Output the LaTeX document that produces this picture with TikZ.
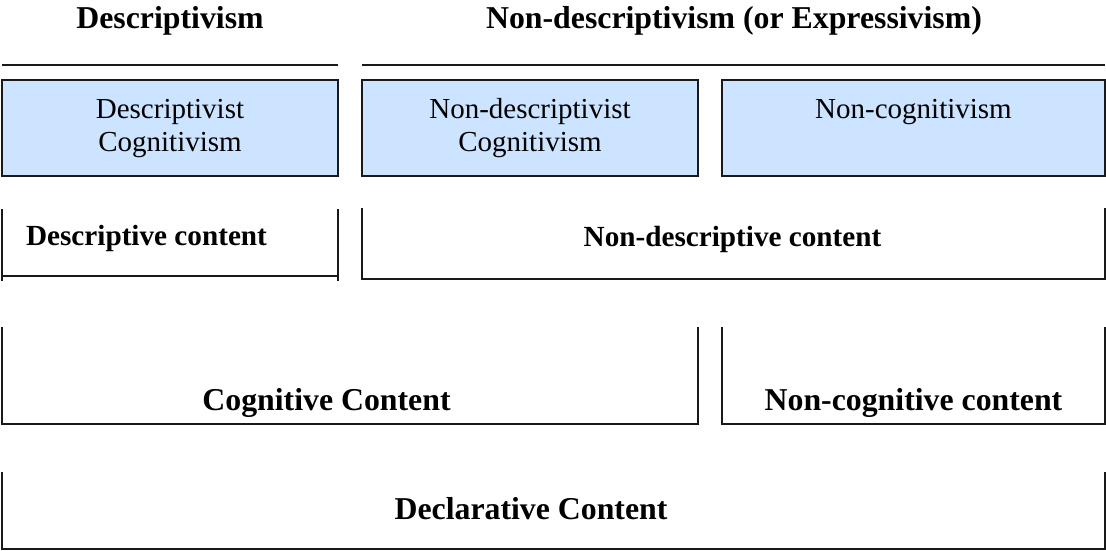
\documentclass[tikz,border=0pt]{standalone}
\usepackage{fontspec}
\setmainfont{Liberation Serif}
\definecolor{boxblue}{RGB}{204,228,255}
\definecolor{inkline}{RGB}{25,25,25}
\begin{document}
\begin{tikzpicture}[x=1pt,y=-1pt,
  rule/.style={line width=2pt, draw=inkline},
  bracket/.style={line width=2pt, draw=inkline},
  bluebox/.style={draw=inkline, line width=1.6pt, fill=boxblue},
  headtxt/.style={font=\fontsize{31.8}{36}\selectfont\bfseries, anchor=base, inner sep=0pt},
  midtxt/.style={font=\fontsize{29.2}{33}\selectfont\bfseries, anchor=base, inner sep=0pt},
  boxtxt/.style={font=\fontsize{29}{33}\selectfont, anchor=base, align=center, inner sep=0pt}]
  \useasboundingbox (0,0) rectangle (1106,551);

  % headings and their rules
  \node[headtxt] (hdesc) at (170,29) {Descriptivism};
  \node[headtxt] (hnond) at (734,29) {Non-descriptivism (or Expressivism)};
  \draw[rule] (2,65) -- (338,65);
  \draw[rule] (362,65) -- (1105,65);

  % the three positions (base anchor sits on the last line)
  \draw[bluebox] (2,80) rectangle (338,176);
  \draw[bluebox] (362,80) rectangle (698,176);
  \draw[bluebox] (722,80) rectangle (1105,176);
  \node[boxtxt] (dcog) at (170,151) {Descriptivist\\Cognitivism};
  \node[boxtxt] (ndcog) at (530,151) {Non-descriptivist\\Cognitivism};
  \node[boxtxt] (noncog) at (913.5,118) {Non-cognitivism};

  % kinds of content
  \draw[bracket] (2,209) -- (2,281);
  \draw[bracket] (338,209) -- (338,281);
  \draw[bracket] (2,276) -- (338,276);
  \node[midtxt] (dcont) at (146.5,245) {Descriptive content};

  \draw[bracket] (362,208) -- (362,279) -- (1105,279) -- (1105,208);
  \node[midtxt] (ndcont) at (732.5,246) {Non-descriptive content};

  \draw[bracket] (2,327) -- (2,424) -- (698,424) -- (698,327);
  \node[headtxt] (ccont) at (326.5,410) {Cognitive Content};

  \draw[bracket] (722,327) -- (722,424) -- (1105,424) -- (1105,327);
  \node[headtxt] (nccont) at (913.5,410) {Non-cognitive content};

  \draw[bracket] (2,472) -- (2,549) -- (1105,549) -- (1105,472);
  \node[headtxt] (declc) at (531,519) {Declarative Content};
\end{tikzpicture}
\end{document}
